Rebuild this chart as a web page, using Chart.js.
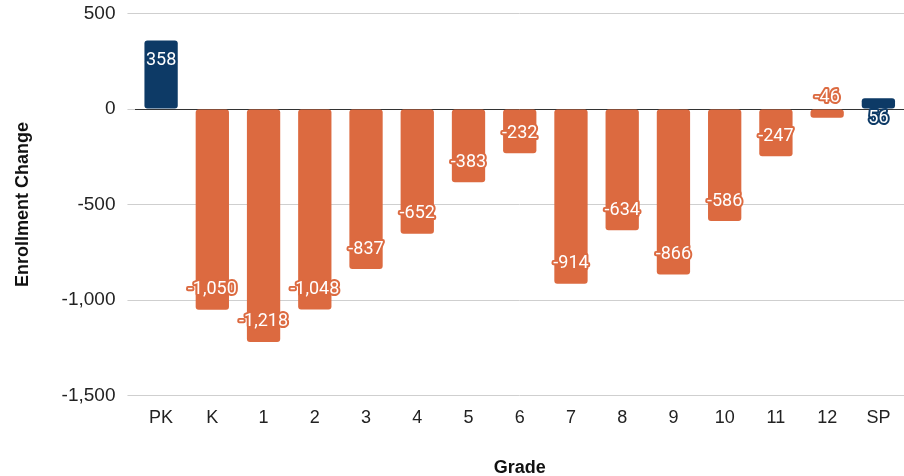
<!DOCTYPE html>
<html>
<head>
<meta charset="utf-8">
<script src="https://cdn.jsdelivr.net/npm/chart.js@4.4.1/dist/chart.umd.min.js"></script>
<style>
  html, body { margin: 0; padding: 0; background: #fff; }
  #wrap { width: 904px; height: 476px; }
</style>
</head>
<body>
<div id="wrap"><canvas id="myChart" width="904" height="476"></canvas></div>
<script>
const grades = ['PK', 'K', '1', '2', '3', '4', '5', '6', '7', '8', '9', '10', '11', '12', 'SP'];
const enrollmentChange = [358, -1050, -1218, -1048, -837, -652, -383, -232, -914, -634, -866, -586, -247, -46, 56];
const yTicks = [500, 0, -500, -1000, -1500];

const BLUE = '#0d3a66';
const ORANGE = '#dc6a40';

// white value labels with a halo in the bar colour, just inside the bar end
const barLabels = {
  id: 'barLabels',
  afterDatasetsDraw(chart) {
    const ctx = chart.ctx;
    const meta = chart.getDatasetMeta(0);
    ctx.save();
    ctx.font = '18px Roboto';
    ctx.textAlign = 'center';
    ctx.textBaseline = 'middle';
    ctx.lineJoin = 'round';
    meta.data.forEach(function (bar, i) {
      const v = enrollmentChange[i];
      const text = v.toLocaleString('en-US');
      const y = v >= 0 ? bar.y + 20 : bar.y - 20;
      ctx.lineWidth = 4;
      ctx.strokeStyle = v >= 0 ? BLUE : ORANGE;
      ctx.strokeText(text, bar.x, y);
      ctx.fillStyle = '#ffffff';
      ctx.fillText(text, bar.x, y);
    });
    ctx.restore();
  }
};

const ctx = document.getElementById('myChart').getContext('2d');
new Chart(ctx, {
  type: 'bar',
  data: {
    labels: grades,
    datasets: [{
      data: enrollmentChange,
      backgroundColor: enrollmentChange.map(v => v >= 0 ? BLUE : ORANGE),
      borderRadius: 3,
      borderSkipped: false,
      barPercentage: 0.65,
      categoryPercentage: 1.0,
    }],
  },
  options: {
    responsive: false,
    animation: false,
    layout: { padding: { left: 12, right: 0, top: 2, bottom: -3 } },
    plugins: {
      legend: { display: false },
      tooltip: { enabled: false },
    },
    scales: {
      x: {
        grid: { display: false, drawTicks: false },
        border: { display: false },
        ticks: { color: '#222', font: { family: 'Liberation Sans', size: 18 }, padding: 11 },
        title: {
          display: true,
          text: 'Grade',
          color: '#111',
          font: { family: 'Liberation Sans', size: 18, weight: 'bold' },
          padding: { top: 18, bottom: 0 },
        },
      },
      y: {
        min: -1500,
        max: 500,
        afterBuildTicks(axis) {
          axis.ticks = yTicks.slice().reverse().map(v => ({ value: v }));
        },
        grid: {
          color: ctx => ctx.tick && ctx.tick.value === 0 ? '#333' : '#cfcfcf',
          tickColor: '#cfcfcf',
          lineWidth: 1,
          tickLength: 18,
          // only the 8px next to the plot is visible, the rest is the label gap
          tickBorderDash: [0, 10, 8, 100],
        },
        border: { display: false },
        ticks: {
          color: '#222',
          font: { family: 'Liberation Sans', size: 19 },
          padding: 2,
          callback: v => v.toLocaleString('en-US'),
        },
        title: {
          display: true,
          text: 'Enrollment Change',
          color: '#111',
          font: { family: 'Liberation Sans', size: 18, weight: 'bold' },
          padding: { top: 0, bottom: 26 },
        },
      },
    },
  },
  plugins: [barLabels],
});
</script>
</body>
</html>
